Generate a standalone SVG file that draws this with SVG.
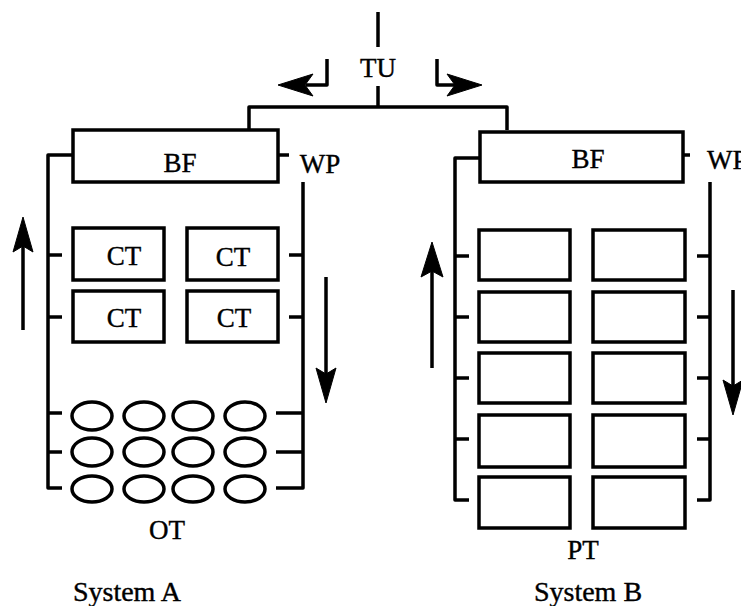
<svg xmlns="http://www.w3.org/2000/svg" width="741" height="606" viewBox="0 0 741 606">
<style>
.ln{fill:none;stroke:#000;stroke-width:3.5;stroke-linejoin:round}
.bx{fill:#fff;stroke:#000;stroke-width:3.5}
.el{fill:#fff;stroke:#000;stroke-width:3.5}
.t{font-family:"Liberation Serif",serif;font-size:27px;fill:#000;stroke:#000;stroke-width:0.4;text-anchor:middle}
.ah{fill:#000;stroke:#000;stroke-width:1;stroke-linejoin:miter}
</style>
<rect width="741" height="606" fill="#fff"/>
<g id="connectors">
<!-- TU feed -->
<line class="ln" x1="378" y1="12" x2="378" y2="47"/>
<line class="ln" x1="378" y1="86" x2="378" y2="107"/>
<polyline class="ln" points="249,130 249,107 507,107 507,130"/>
<polyline class="ln" points="327,59 327,85 306,85"/>
<path class="ah" d="M278,85 L313,74 L305,85 L313,96 Z"/>
<polyline class="ln" points="437,59 437,85 458,85"/>
<path class="ah" d="M482,85 L447,74 L455,85 L447,96 Z"/>
<!-- System A rails -->
<polyline class="ln" points="73,155 48,155 48,488 62,488"/>
<line class="ln" x1="48" y1="255" x2="62" y2="255"/>
<line class="ln" x1="48" y1="317" x2="62" y2="317"/>
<line class="ln" x1="48" y1="413" x2="62" y2="413"/>
<line class="ln" x1="48" y1="452" x2="62" y2="452"/>
<line class="ln" x1="278" y1="155" x2="289" y2="155"/>
<polyline class="ln" points="303,182 303,488 276,488"/>
<line class="ln" x1="289" y1="255" x2="303" y2="255"/>
<line class="ln" x1="289" y1="317" x2="303" y2="317"/>
<line class="ln" x1="276" y1="413" x2="303" y2="413"/>
<line class="ln" x1="276" y1="452" x2="303" y2="452"/>
<line class="ln" x1="23" y1="330" x2="23" y2="246"/>
<path class="ah" d="M23,217 L33,252 L23,246 L13,252 Z"/>
<line class="ln" x1="326" y1="277" x2="326" y2="374"/>
<path class="ah" d="M326,403 L316,368 L326,374 L336,368 Z"/>
<!-- System B rails -->
<polyline class="ln" points="480,158 455,158 455,500 469,500"/>
<line class="ln" x1="455" y1="256" x2="469" y2="256"/>
<line class="ln" x1="455" y1="317" x2="469" y2="317"/>
<line class="ln" x1="455" y1="378" x2="469" y2="378"/>
<line class="ln" x1="455" y1="439" x2="469" y2="439"/>
<line class="ln" x1="684" y1="155" x2="690" y2="155"/>
<polyline class="ln" points="710,182 710,500 697,500"/>
<line class="ln" x1="697" y1="256" x2="710" y2="256"/>
<line class="ln" x1="697" y1="317" x2="710" y2="317"/>
<line class="ln" x1="697" y1="378" x2="710" y2="378"/>
<line class="ln" x1="697" y1="439" x2="710" y2="439"/>
<line class="ln" x1="432" y1="368" x2="432" y2="271"/>
<path class="ah" d="M432,242 L443,277 L432,271 L421,277 Z"/>
<line class="ln" x1="733" y1="290" x2="733" y2="386"/>
<path class="ah" d="M733,415 L723,380 L733,386 L743,380 Z"/>
</g>
<g id="TU"><text class="t" x="378" y="77">TU</text></g>
<g id="A-BF"><rect class="bx" x="73" y="130" width="205" height="52"/><text class="t" x="180" y="172">BF</text></g>
<g id="A-WP"><text class="t" x="320" y="173">WP</text></g>
<g id="A-CT1"><rect class="bx" x="73" y="228" width="91" height="52"/><text class="t" x="124" y="265">CT</text></g>
<g id="A-CT2"><rect class="bx" x="187" y="228" width="91" height="52"/><text class="t" x="233" y="266">CT</text></g>
<g id="A-CT3"><rect class="bx" x="73" y="291" width="91" height="51"/><text class="t" x="124" y="327">CT</text></g>
<g id="A-CT4"><rect class="bx" x="187" y="291" width="91" height="51"/><text class="t" x="234" y="327">CT</text></g>
<g id="A-OT">
<ellipse class="el" cx="92" cy="416" rx="20" ry="14"/>
<ellipse class="el" cx="144" cy="416" rx="20" ry="14"/>
<ellipse class="el" cx="193" cy="416" rx="20" ry="14"/>
<ellipse class="el" cx="245" cy="416" rx="20" ry="14"/>
<ellipse class="el" cx="92" cy="452" rx="20" ry="14"/>
<ellipse class="el" cx="144" cy="452" rx="20" ry="14"/>
<ellipse class="el" cx="193" cy="452" rx="20" ry="14"/>
<ellipse class="el" cx="245" cy="452" rx="20" ry="14"/>
<ellipse class="el" cx="92" cy="489" rx="20" ry="13"/>
<ellipse class="el" cx="144" cy="489" rx="20" ry="13"/>
<ellipse class="el" cx="193" cy="489" rx="20" ry="13"/>
<ellipse class="el" cx="245" cy="489" rx="20" ry="13"/>
<text class="t" x="167" y="539">OT</text>
</g>
<g id="A-label"><text class="t" x="127" y="601" style="font-size:28px">System A</text></g>
<g id="B-BF"><rect class="bx" x="480" y="132" width="203" height="50"/><text class="t" x="588" y="168">BF</text></g>
<g id="B-WP"><text class="t" x="707" y="169" style="text-anchor:start">WP</text></g>
<g id="B-PT">
<rect class="bx" x="479" y="230" width="91" height="50"/><rect class="bx" x="593" y="230" width="92" height="50"/>
<rect class="bx" x="479" y="292" width="91" height="50"/><rect class="bx" x="593" y="292" width="92" height="50"/>
<rect class="bx" x="479" y="353" width="91" height="50"/><rect class="bx" x="593" y="353" width="92" height="50"/>
<rect class="bx" x="479" y="415" width="91" height="52"/><rect class="bx" x="593" y="415" width="92" height="52"/>
<rect class="bx" x="479" y="477" width="91" height="51"/><rect class="bx" x="593" y="477" width="92" height="51"/>
<text class="t" x="583" y="559">PT</text>
</g>
<g id="B-label"><text class="t" x="588" y="601" style="font-size:28px">System B</text></g>
</svg>
